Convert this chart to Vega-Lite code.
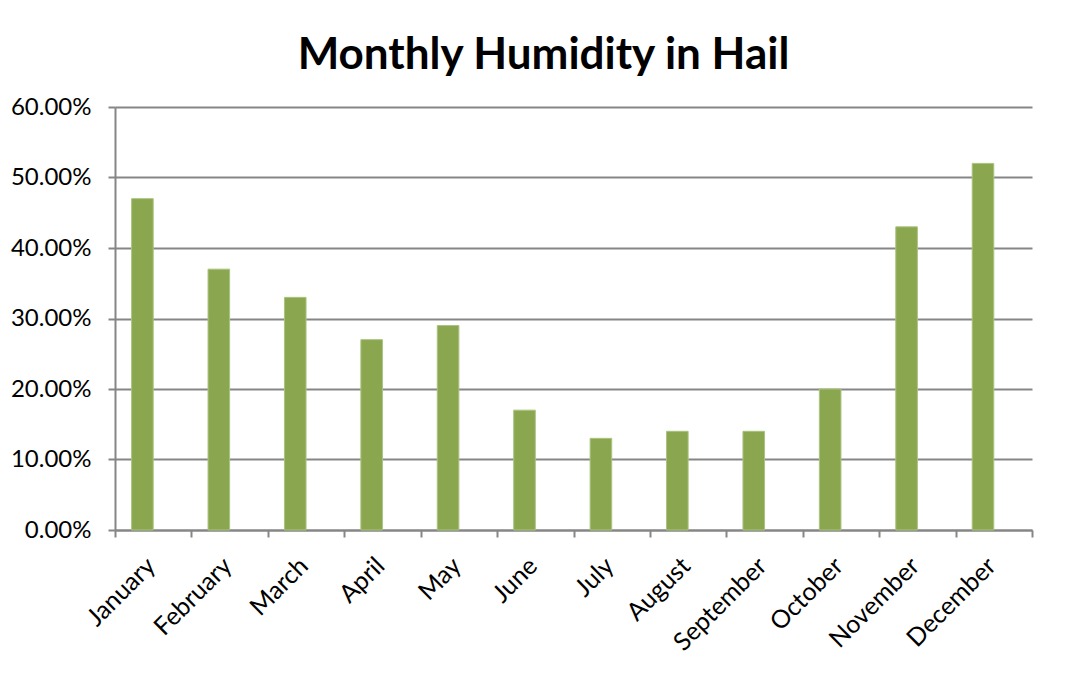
{
  "$schema": "https://vega.github.io/schema/vega-lite/v6.json",
  "autosize": "none",
  "width": 917,
  "height": 423,
  "padding": {"left": 115, "top": 107, "right": 40, "bottom": 144},
  "background": "white",
  "title": {
    "text": "Monthly Humidity in Hail",
    "font": "Lato",
    "fontSize": 44,
    "fontWeight": "bold",
    "color": "black",
    "anchor": "middle",
    "dx": -30,
    "offset": 17
  },
  "data": {
    "values": [
      {"month": "January", "series": "Humidity", "humidity": 0.47},
      {"month": "February", "series": "Humidity", "humidity": 0.37},
      {"month": "March", "series": "Humidity", "humidity": 0.33},
      {"month": "April", "series": "Humidity", "humidity": 0.27},
      {"month": "May", "series": "Humidity", "humidity": 0.29},
      {"month": "June", "series": "Humidity", "humidity": 0.17},
      {"month": "July", "series": "Humidity", "humidity": 0.13},
      {"month": "August", "series": "Humidity", "humidity": 0.14},
      {"month": "September", "series": "Humidity", "humidity": 0.14},
      {"month": "October", "series": "Humidity", "humidity": 0.20},
      {"month": "November", "series": "Humidity", "humidity": 0.43},
      {"month": "December", "series": "Humidity", "humidity": 0.52}
    ]
  },
  "mark": {"type": "bar", "color": "#8aa64f", "stroke": "#a9c47f", "strokeWidth": 1},
  "encoding": {
    "x": {
      "field": "month",
      "type": "nominal",
      "sort": null,
      "scale": {"paddingInner": 0, "paddingOuter": 0},
      "axis": {
        "title": null,
        "labelAngle": -45,
        "labelFont": "Lato",
        "labelFontSize": 25,
        "labelColor": "black",
        "labelPadding": 16,
        "labelOffset": -11,
        "tickBand": "extent",
        "tickSize": 7,
        "tickColor": "#868686",
        "tickWidth": 2,
        "domainColor": "#868686",
        "domainWidth": 2,
        "grid": false
      }
    },
    "xOffset": {
      "field": "series",
      "type": "nominal",
      "scale": {"domain": ["Humidity", "Other"], "paddingInner": 0, "paddingOuter": 0.77}
    },
    "y": {
      "field": "humidity",
      "type": "quantitative",
      "scale": {"domain": [0, 0.6], "nice": false},
      "axis": {
        "title": null,
        "format": ".2%",
        "values": [0, 0.1, 0.2, 0.3, 0.4, 0.5, 0.6],
        "labelFont": "Lato",
        "labelFontSize": 24,
        "labelColor": "black",
        "labelPadding": 17,
        "tickSize": 7,
        "tickColor": "#868686",
        "tickWidth": 2,
        "domainColor": "#868686",
        "domainWidth": 2,
        "grid": true,
        "gridColor": "#868686",
        "gridWidth": 2
      }
    }
  },
  "config": {"view": {"stroke": null}}
}
